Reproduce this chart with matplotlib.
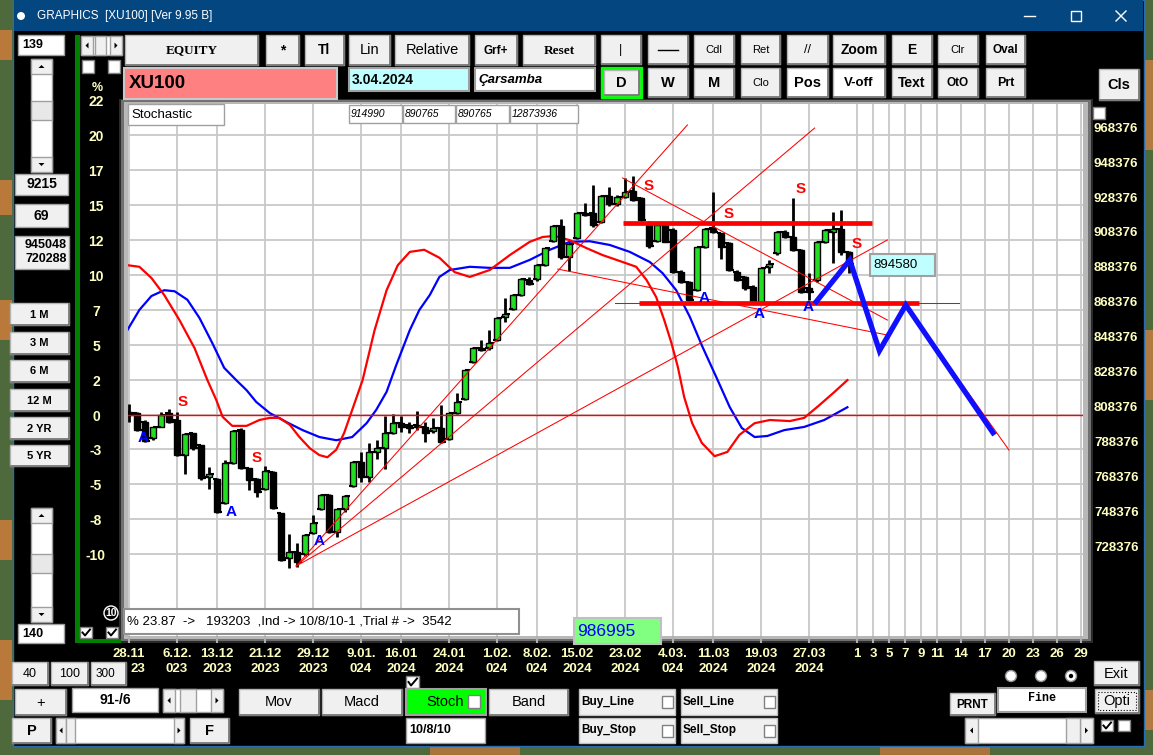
import matplotlib
matplotlib.use('Agg')
import matplotlib.pyplot as plt
from matplotlib.patches import Rectangle, Circle, Polygon
from matplotlib import font_manager
import matplotlib.transforms as mtransforms

# ---------------- data ----------------
opens = [810000, 809000, 804300, 794700, 801400, 809000, 805200, 785200, 797600, 790900,
         772800, 771400, 757500, 780400, 799500, 777500, 771400, 765500, 775600, 751700,
         726300, 729400, 728200, 740700, 754000, 762300, 741200, 754000, 767400, 781400,
         772800, 787100, 789000, 797600, 803300, 802400, 802400, 801400, 799100, 800500,
         794100, 809000, 817100, 838600, 846300, 846300, 851100, 864400, 868600, 876900,
         885400, 885800, 894000, 907800, 916400, 898400, 909700, 923600, 923600, 918900,
         933800, 928800, 933200, 936400, 932200, 917900, 907800, 917000, 914100, 890200,
         884500, 879700, 904200, 915100, 912200, 906500, 890200, 887400, 881600, 872100,
         892700, 900700, 913100, 910300, 902600, 880700, 885400, 907400, 913100, 914500,
         901700]
highs = [814400, 810000, 805000, 801400, 810000, 811300, 810000, 797500, 798000, 791000,
         778100, 772000, 782300, 799500, 800800, 778000, 772000, 778900, 776000, 752000,
         739700, 734900, 740000, 750800, 762800, 763000, 754500, 762500, 782000, 787100,
         791900, 793800, 807500, 808500, 807500, 804300, 810600, 804300, 806200, 813800,
         809500, 820500, 834000, 847000, 851000, 856800, 864000, 874900, 877500, 886500,
         887000, 894500, 904000, 917000, 920200, 906500, 924000, 929400, 939900, 934000,
         938500, 934000, 943700, 945048, 933000, 919000, 917500, 917500, 915000, 891000,
         885000, 904500, 915000, 936100, 912500, 907000, 891000, 888000, 882500, 892500,
         896900, 913500, 914000, 932200, 903000, 889300, 908000, 914500, 924600, 925600,
         902000]
lows = [804300, 799100, 792800, 794000, 801000, 803300, 784500, 774100, 788000, 771000,
        765500, 751800, 757000, 780000, 777000, 765100, 760900, 765000, 754000, 724500,
        720288, 721200, 727500, 740000, 753500, 740500, 738000, 752300, 767000, 769900,
        769900, 782700, 777000, 797000, 798500, 797600, 799500, 792800, 797600, 791900,
        793500, 808500, 816500, 838000, 844500, 845500, 850500, 861600, 868000, 876000,
        882500, 885000, 893500, 907000, 897500, 890600, 909000, 922000, 916000, 918000,
        928000, 928000, 932500, 930500, 919000, 904000, 907000, 907000, 889500, 884000,
        873500, 879000, 903500, 912500, 897300, 890500, 884800, 880000, 871500, 871500,
        889300, 900000, 909500, 902000, 878000, 874000, 884500, 906800, 895000, 900000,
        889300]
closes = [808100, 799500, 793400, 801400, 808100, 804300, 785200, 797000, 789000, 771800,
          774100, 752300, 780400, 798900, 777500, 770800, 764200, 776000, 754600, 725000,
          729400, 724100, 739300, 746400, 762300, 741200, 754000, 761900, 781400, 772800,
          786700, 789000, 797600, 803300, 801400, 800500, 801400, 798000, 800500, 792800,
          809000, 815700, 833900, 846700, 845300, 849200, 863500, 866000, 876900, 885800,
          883200, 894000, 903600, 916400, 898400, 906100, 923600, 922700, 917000, 933800,
          928800, 933200, 936100, 931300, 919800, 904900, 917000, 907400, 890200, 884500,
          874000, 904200, 914700, 913100, 904200, 891200, 885400, 880700, 872100, 892100,
          894400, 913100, 910300, 902600, 878800, 878800, 907400, 914100, 914500, 901700,
          894580]

date_ticks = [0, 6, 11, 17, 23, 29, 34, 40, 46, 51, 56, 62, 68, 73, 79, 85]
date_labels = ['28.11\n23', '6.12.\n023', '13.12\n2023', '21.12\n2023', '29.12\n2023',
               '9.01.\n024', '16.01\n2024', '24.01\n2024', '1.02.\n024', '8.02.\n024',
               '15.02\n2024', '23.02\n2024', '4.03.\n024', '11.03\n2024', '19.03\n2024',
               '27.03\n2024']
future_ticks = [91, 93, 95, 97, 99, 101, 104, 107, 110, 113, 116, 119]
future_labels = ['1', '3', '5', '7', '9', '11', '14', '17', '20', '23', '26', '29']

price_grid = [968376, 948376, 928376, 908376, 888376, 868376, 848376, 828376,
              808376, 788376, 768376, 748376, 728376]
pct_levels = [988376] + price_grid
pct_labels = ['22', '20', '17', '15', '12', '10', '7', '5', '2', '0', '-3', '-5', '-8', '-10']

k_idx = [-0.2, 1.3, 2.8, 4.4, 6.3, 8.2, 9.8, 10.9, 11.7, 12.9, 14.7, 16.3, 17.6, 18.8, 20.1,
         21.3, 22.6, 23.8, 24.8, 25.9, 26.9, 27.9, 29.2, 30.7, 32.2, 33.6, 35.1, 36.9, 38.8,
         40.7, 42.6, 45.1, 47.6, 50.1, 51.7, 53.2, 55.1, 57.2, 59.2, 61.7, 63.4, 64.7, 65.9,
         66.9, 67.8, 68.6, 69.4, 70.4, 71.6, 73.2, 74.8, 76.3, 78.2, 80.1, 82.6, 84.4, 86.3,
         88.2, 89.8]
k_val = [69.7, 69.4, 67.3, 64.1, 59.4, 54.1, 48.1, 44.4, 41.2, 39.5, 39.5, 40.6, 41.0, 41.0,
         39.7, 37.4, 35.3, 34.0, 33.6, 35.0, 38.2, 42.5, 48.1, 57.5, 65.0, 69.7, 72.2, 72.6,
         71.1, 68.4, 67.5, 68.8, 71.6, 74.1, 75.0, 75.2, 74.4, 72.9, 71.6, 70.3, 69.4, 66.9,
         63.7, 59.4, 55.1, 50.6, 44.9, 40.0, 36.3, 33.8, 34.6, 37.8, 40.0, 40.6, 40.4, 41.0,
         43.4, 45.9, 48.1]
d_idx = [-0.2, 1.3, 2.8, 4.4, 5.7, 7.3, 8.8, 10.4, 11.9, 13.4, 14.7, 15.9, 17.6, 19.7, 21.7,
         23.8, 25.9, 27.9, 29.7, 30.9, 32.2, 33.4, 35.1, 36.3, 37.6, 38.8, 40.1, 42.6, 45.1,
         47.6, 50.1, 52.6, 55.1, 57.6, 60.1, 62.6, 65.1, 66.7, 68.4, 70.1, 71.7, 73.4, 75.1,
         76.6, 78.2, 79.8, 81.9, 84.4, 86.9, 89.8]
d_val = [57.5, 61.3, 63.9, 65.0, 64.8, 63.2, 59.8, 55.1, 50.4, 48.1, 46.2, 44.0, 41.9, 40.2,
         38.7, 37.4, 36.8, 37.4, 40.0, 42.5, 45.9, 50.9, 57.5, 61.3, 64.1, 67.5, 68.8, 69.4,
         69.2, 69.2, 70.7, 72.6, 74.1, 74.2, 73.5, 72.2, 70.3, 68.2, 65.0, 60.0, 54.3, 48.7,
         43.0, 39.1, 37.4, 37.6, 38.7, 39.3, 40.6, 43.0]

# thin trend lines (index, price) -> (index, price)
tl_x0 = [20.9, 20.9, 20.9, 61.7, 53.6, 60.7, 97.1]
tl_p0 = [721600, 721600, 721600, 943900, 891700, 872300, 871100]
tl_x1 = [69.8, 85.7, 94.8, 94.8, 94.8, 103.8, 110.0]
tl_p1 = [974300, 972500, 908400, 862500, 853900, 872300, 788000]
base_level = 808376
# thick horizontal levels
thick_x0 = [61.7, 63.8]
thick_x1 = [92.9, 98.8]
thick_p = [918100, 872300]
# blue projection
proj_idx = [85.9, 90.1, 93.8, 97.1, 108.0]
proj_price = [873000, 896900, 844900, 871100, 797900]

ann_idx = [1.75, 6.75, 15.9, 12.75, 23.75, 64.9, 74.9, 71.9, 83.9, 78.75, 84.9, 91.0]
ann_price = [794900, 815500, 783500, 752500, 735900, 939300, 923300, 875100, 937600, 866000, 870000, 906100]
ann_text = ['A', 'S', 'S', 'A', 'A', 'S', 'S', 'A', 'S', 'A', 'A', 'S']

# ---------------- fonts ----------------
names = {f.name for f in font_manager.fontManager.ttflist}
SANS = 'Liberation Sans' if 'Liberation Sans' in names else 'DejaVu Sans'
NARROW = 'Liberation Sans Narrow' if 'Liberation Sans Narrow' in names else SANS
SERIF = 'Liberation Serif' if 'Liberation Serif' in names else 'DejaVu Serif'
MONO = 'Liberation Mono' if 'Liberation Mono' in names else 'DejaVu Sans Mono'
YEL = '#ffffc0'

W, H = 1153, 755
fig = plt.figure(figsize=(W / 100, H / 100), dpi=100)
bg = fig.add_axes([0, 0, 1, 1], zorder=0)
bg.set_xlim(0, W); bg.set_ylim(H, 0); bg.axis('off')


def box(x0, y0, x1, y1, fc, ec='#a0a0a0', lw=1.0, z=2, a=None, ls='-'):
    a = a or bg
    a.add_patch(Rectangle((x0, y0), x1 - x0, y1 - y0, facecolor=fc, edgecolor=ec,
                          linewidth=lw, zorder=z, linestyle=ls))


def txt(x, y, s, fs=9, w='bold', fam=None, c='black', ha='center', st='normal', z=4, a=None, **kw):
    a = a or bg
    a.text(x, y, s, fontsize=fs, fontweight=w, family=fam or SANS, color=c, ha=ha, va='center',
           style=st, zorder=z, **kw)


def button(x0, y0, x1, y1, label, fs=9.5, w='bold', fam=None, fc='#f0f0f0', c='black', st='normal', tx=None):
    box(x0, y0, x1, y1, fc, ec='#b4b4b4', lw=1)
    bg.plot([x0 + 1, x1, x1], [y1, y1, y0 + 1], color='#707070', lw=1.2, zorder=3)
    txt(tx if tx is not None else (x0 + x1) / 2, (y0 + y1) / 2 + 0.5, label, fs=fs, w=w, fam=fam, c=c, st=st)


def check(x0, y0, x1, y1, on=False):
    box(x0, y0, x1, y1, 'white', ec='#808080', lw=1)
    if on:
        bg.plot([x0 + 2.5, x0 + 5, x1 - 2], [(y0 + y1) / 2, y1 - 2.5, y0 + 2.5], color='black', lw=1.4, zorder=4)


def tri(cx, cy, d, s=3):
    if d == 'up':
        pts = [[cx - s, cy + s / 2], [cx + s, cy + s / 2], [cx, cy - s / 2]]
    elif d == 'down':
        pts = [[cx - s, cy - s / 2], [cx + s, cy - s / 2], [cx, cy + s / 2]]
    elif d == 'left':
        pts = [[cx + s / 2, cy - s], [cx + s / 2, cy + s], [cx - s / 2, cy]]
    else:
        pts = [[cx - s / 2, cy - s], [cx - s / 2, cy + s], [cx + s / 2, cy]]
    bg.add_patch(Polygon(pts, closed=True, facecolor='black', edgecolor='none', zorder=5))


def vscroll(x0, y0, x1, y1, t0, t1):
    box(x0, y0, x1, y1, 'white', '#a0a0a0')
    box(x0, y0, x1, y0 + 15, '#f0f0f0', '#a0a0a0', z=3)
    box(x0, y1 - 15, x1, y1, '#f0f0f0', '#a0a0a0', z=3)
    box(x0, t0, x1, t1, '#e8e8e8', '#a0a0a0', z=3)
    tri((x0 + x1) / 2, y0 + 7.5, 'up'); tri((x0 + x1) / 2, y1 - 7.5, 'down')


def hscroll(x0, y0, x1, y1, t0, t1, aw=13):
    box(x0, y0, x1, y1, 'white', '#a0a0a0')
    box(x0, y0, x0 + aw, y1, '#f0f0f0', '#a0a0a0', z=3)
    box(x1 - aw, y0, x1, y1, '#f0f0f0', '#a0a0a0', z=3)
    box(t0, y0, t1, y1, '#f0f0f0', '#a0a0a0', z=3)
    tri(x0 + aw / 2, (y0 + y1) / 2, 'left'); tri(x1 - aw / 2, (y0 + y1) / 2, 'right')


# ---------------- desktop + window ----------------
box(0, 0, W, H, '#4e6a3c', ec='none', z=0)
for (yy0, yy1) in [(30, 60), (180, 215), (300, 340), (520, 560), (640, 700)]:
    box(0, yy0, 12, yy1, '#b8793a', ec='none', z=0.5)
for (yy0, yy1) in [(60, 150), (330, 400), (690, 730)]:
    box(1144, yy0, W, yy1, '#b07a40', ec='none', z=0.5)
box(430, 745, 520, H, '#a8743a', ec='none', z=0.5)
box(880, 745, 990, H, '#a8743a', ec='none', z=0.5)
box(13, 0, 1144, 746, '#000000', ec='#2a6cb0', lw=1, z=1)
box(14, 0, 1143, 31, '#04467f', ec='none', z=1.5)
bg.add_patch(Circle((21, 16), 4, facecolor='white', edgecolor='none', zorder=3))
txt(37, 16, 'GRAPHICS  [XU100] [Ver 9.95 B]', fs=8.5, w='normal', c='white', ha='left')
bg.plot([1024, 1035], [16, 16], color='white', lw=1, zorder=3)
box(1071, 11, 1081, 21, 'none', ec='white', lw=1, z=3)
bg.plot([1116, 1126], [11, 21], color='white', lw=1, zorder=3)
bg.plot([1116, 1126], [21, 11], color='white', lw=1, zorder=3)

# ---------------- left panel ----------------
box(18, 35, 64, 55, 'white', '#a0a0a0')
txt(22, 45, '139', fs=9, ha='left')
vscroll(31, 59, 52, 172, 101, 120)
box(15, 174, 68, 195, '#f0f0f0', '#a0a0a0'); txt(41.5, 184.5, '9215', fs=10)
box(15, 204, 68, 227, '#f0f0f0', '#a0a0a0'); txt(41.5, 215.5, '69', fs=10)
box(15, 236, 69, 269, '#f0f0f0', '#a0a0a0')
txt(67, 245.5, '945048', fs=9, ha='right'); txt(67, 259.5, '720288', fs=9, ha='right')
for (yy0, yy1, lab) in [(303, 325, '1 M'), (332, 354, '3 M'), (360, 382, '6 M'), (389, 411, '12 M'),
                        (417, 439, '2 YR'), (445, 466, '5 YR')]:
    button(10, yy0, 69, yy1, lab, fs=8)
vscroll(31, 508, 52, 622, 554, 573)
box(18, 624, 64, 643, 'white', '#a0a0a0'); txt(22, 634, '140', fs=9, ha='left')
box(75, 35, 79.5, 643, '#008000', ec='none', z=2)
box(75, 638.5, 121, 643, '#008000', ec='none', z=2)
check(80, 627, 92, 638, True); check(106, 627, 118, 638, True)
bg.add_patch(Circle((111, 613), 7, facecolor='none', edgecolor='white', lw=1, zorder=3))
txt(111, 613, '10', fs=7.5, c='white')
hscroll(81, 36, 122, 55, 95, 106, aw=12)
check(82, 60, 94, 73); check(108, 60, 120, 73)
txt(97, 88, '%', fs=9, fam=NARROW, c=YEL)

# ---------------- top toolbar ----------------
button(125, 35, 258, 65, 'EQUITY', fs=9.5, fam=SERIF)
button(266, 35, 299, 65, '*', fs=10)
button(305, 35, 344, 65, 'Tl', fs=10)
button(349, 35, 390, 65, 'Lin', fs=10.5, w='normal')
button(395, 35, 469, 65, 'Relative', fs=10.5, w='normal')
button(475, 35, 517, 65, 'Grf+', fs=8.5)
button(523, 35, 595, 65, 'Reset', fs=9.5, fam=SERIF)
top1 = [(601, 641, '|', 9, 'normal'), (648, 688, '', 9, 'normal'), (694, 734, 'Cdl', 8, 'normal'),
        (741, 780, 'Ret', 8, 'normal'), (787, 828, '//', 9, 'normal'), (833, 885, 'Zoom', 10, 'bold'),
        (892, 932, 'E', 10, 'bold'), (938, 978, 'Clr', 8, 'normal'), (986, 1025, 'Oval', 8.5, 'bold')]
for (x0, x1, lab, fs, w) in top1:
    button(x0, 35, x1, 64, lab, fs=fs, w=w)
bg.plot([658, 678], [49.5, 49.5], color='black', lw=1, zorder=5)
box(124, 68, 337, 99, '#ff8080', ec='#c8c8c8', lw=1.5)
txt(129, 84, 'XU100', fs=13.5, ha='left')
box(349, 68, 469, 91, '#c0ffff', ec='#a0a0a0', lw=1.5)
txt(352, 80, '3.04.2024', fs=10, ha='left')
box(475, 68, 595, 91, 'white', ec='#a0a0a0', lw=1.5)
txt(478, 80, 'Çarsamba', fs=9.5, ha='left', st='italic')
box(601, 67, 642, 98, '#00ff00', ec='#00ff00', lw=1)
button(604, 70, 639, 95, 'D', fs=10.5)
top2 = [(648, 688, 'W', 10.5, 'bold', '#f0f0f0'), (694, 734, 'M', 10.5, 'bold', '#f0f0f0'),
        (741, 780, 'Clo', 8, 'normal', '#f0f0f0'), (787, 828, 'Pos', 10.5, 'bold', 'white'),
        (833, 885, 'V-off', 9.5, 'bold', 'white'), (892, 932, 'Text', 10, 'bold', '#f0f0f0'),
        (938, 978, 'OtO', 8.5, 'bold', '#f0f0f0'), (986, 1025, 'Prt', 9, 'bold', '#f0f0f0')]
for (x0, x1, lab, fs, w, fc) in top2:
    button(x0, 68, x1, 97, lab, fs=fs, w=w, fc=fc)
button(1099, 69, 1139, 100, 'Cls', fs=10.5)
check(1093, 107, 1105, 119)

# ---------------- chart frame ----------------
box(119, 99, 1093, 643, '#2a2a2a', ec='none', z=1.6)
box(121, 100, 1091, 641, '#707070', ec='none', z=1.7)
box(124, 102, 1088, 639, '#b8b8b8', ec='none', z=1.8)

# ---------------- bottom controls ----------------
button(12, 662, 48, 685, '40', fs=9, w='normal')
button(51, 662, 88, 685, '100', fs=9, w='normal')
button(91, 662, 126, 685, '300', fs=8.5, w='normal', tx=105)
button(15, 689, 66, 715, '+', fs=10.5, w='normal')
box(72, 688, 158, 712, 'white', '#a0a0a0'); txt(115, 700, '91-/6', fs=10)
hscroll(163, 689, 223, 712, 180, 196, aw=12)
button(12, 718, 51, 743, 'P', fs=10.5)
hscroll(56, 718, 184, 743, 66, 75, aw=10)
button(190, 718, 229, 743, 'F', fs=10.5)
button(239, 689, 319, 715, 'Mov', fs=10.5, w='normal')
button(322, 689, 402, 715, 'Macd', fs=10.5, w='normal')
check(406, 676, 419, 688, True)
box(406, 689, 486, 715, '#00ff00', ec='#a0a0a0', lw=1.5)
txt(445, 702, 'Stoch', fs=10.5, w='normal')
box(468, 695, 480, 708, 'white', ec='#808080', lw=1, z=4)
box(406, 718, 485, 743, 'white', '#a0a0a0'); txt(409, 730, '10/8/10', fs=9, ha='left')
button(489, 689, 568, 715, 'Band', fs=10.5, w='normal')
for (x0, x1, y0, y1, lab) in [(579, 675, 689, 715, 'Buy_Line'), (681, 777, 689, 715, 'Sell_Line'),
                              (579, 675, 718, 743, 'Buy_Stop'), (681, 777, 718, 743, 'Sell_Stop')]:
    box(x0, y0, x1, y1, '#f0f0f0', '#c0c0c0')
    txt(x0 + 2, (y0 + y1) / 2, lab, fs=8.5, ha='left')
    check(x1 - 13, (y0 + y1) / 2 - 6, x1 - 2, (y0 + y1) / 2 + 6)
for xc, sel in [(1011, False), (1041, False), (1071, True)]:
    bg.add_patch(Circle((xc, 676), 5.5, facecolor='white', edgecolor='#909090', lw=1, zorder=3))
    if sel:
        bg.add_patch(Circle((xc, 676), 2.2, facecolor='black', edgecolor='none', zorder=4))
button(950, 693, 995, 715, 'PRNT', fs=8.5)
box(998, 688, 1086, 712, 'white', '#a0a0a0', lw=1.5); txt(1042, 698, 'Fine', fs=8.5, fam=MONO)
button(1094, 661, 1139, 685, 'Exit', fs=10.5, w='normal')
button(1095, 689, 1139, 713, 'Opti', fs=10.5, w='normal')
box(1098, 692, 1136, 710, 'none', ec='black', lw=0.8, z=4, ls=':')
hscroll(965, 718, 1093, 743, 1066, 1080, aw=13)
check(1101, 720, 1113, 731, True); check(1118, 720, 1130, 731)

# ---------------- main chart axes ----------------
L, R, T, B = 128, 1083, 104, 636
ax = fig.add_axes([L / W, 1 - B / H, (R - L) / W, (B - T) / H], zorder=1)
ax.set_facecolor('white')
ax.set_xlim(-0.125, 119.25)
ax.set_ylim(1045885 - 573 * B, 1045885 - 573 * T)
for s in ax.spines.values():
    s.set_visible(False)
ax.set_yticks(price_grid)
ax.tick_params(axis='y', left=False, right=False, labelleft=False, labelright=False)
ax.set_xticks(date_ticks + future_ticks, labels=date_labels + future_labels)
ax.tick_params(axis='x', length=5, width=1.5, color='#b0b0b0', labelcolor=YEL, pad=3.5, labelsize=9.5)
for n, lab in enumerate(ax.get_xticklabels()):
    lab.set_fontfamily(NARROW); lab.set_fontweight('bold'); lab.set_linespacing(1.4)
    if n == 0:
        lab.set_multialignment('right')
ax.grid(True, color='#c8c8c8', lw=1.3, zorder=0)
ax.set_axisbelow(True)

# stochastic lines (0-100 mapped to plot height)
st_tr = mtransforms.blended_transform_factory(ax.transData, ax.transAxes)
ax.plot(d_idx, [v / 100 for v in d_val], color='#0000ff', lw=1.6, transform=st_tr, zorder=2)
ax.plot(k_idx, [v / 100 for v in k_val], color='#ff0000', lw=1.6, transform=st_tr, zorder=2.1)

# candles
for i in range(len(opens)):
    o, h, l, c = opens[i], highs[i], lows[i], closes[i]
    ax.vlines(i, l, h, color='black', lw=2.0, zorder=3)
    lo, hi = min(o, c), max(o, c)
    if hi - lo < 1200:
        hi = lo + 1200
    up = c >= o
    ax.add_patch(Rectangle((i - 0.4, lo), 0.8, hi - lo, facecolor='#22dd22' if up else 'black',
                           edgecolor='black', lw=1.0, zorder=3.2))
    ax.hlines(o, i - 0.55, i, color='black', lw=1.5, zorder=3.3)
    ax.hlines(c, i, i + 0.62, color='black', lw=1.5, zorder=3.3)

# trend lines
ax.axhline(base_level, color='#ff0000', lw=1.0, zorder=4)
for x0, p0, x1, p1 in zip(tl_x0, tl_p0, tl_x1, tl_p1):
    ax.plot([x0, x1], [p0, p1], color='#ff0000', lw=0.75, zorder=4)
for x0, x1, p in zip(thick_x0, thick_x1, thick_p):
    ax.plot([x0, x1], [p, p], color='#ff0000', lw=3.4, zorder=4.2, solid_capstyle='butt')
ax.plot(proj_idx, proj_price, color='#1010ff', lw=3.8, zorder=5, solid_joinstyle='miter')

for xi, p, t in zip(ann_idx, ann_price, ann_text):
    ax.text(xi, p, t, color='#0000ff' if t == 'A' else '#ff0000', fontsize=11, fontweight='bold',
            family=SANS, ha='center', va='center', zorder=6)

# right price labels and left percent labels
rt = mtransforms.blended_transform_factory(ax.transAxes, ax.transData) + \
    mtransforms.ScaledTranslation(0, 0.065, fig.dpi_scale_trans)
for p in price_grid:
    ax.text(1 + 11 / (R - L), p, str(p), transform=rt, color=YEL, fontsize=9.5, fontweight='bold',
            family=NARROW, ha='left', va='center', clip_on=False)
lt = mtransforms.blended_transform_factory(ax.transAxes, ax.transData) + \
    mtransforms.ScaledTranslation(0, -0.02, fig.dpi_scale_trans)
for p, lab in zip(pct_levels, pct_labels):
    ax.text(-32 / (R - L), p, lab, transform=lt, color=YEL, fontsize=10, fontweight='bold',
            family=NARROW, ha='center', va='center', clip_on=False)

# ---------------- overlay boxes ----------------
fg = fig.add_axes([0, 0, 1, 1], zorder=5)
fg.set_xlim(0, W); fg.set_ylim(H, 0); fg.axis('off'); fg.patch.set_alpha(0)
box(128, 104, 224, 125, 'white', ec='#a0a0a0', a=fg)
txt(131, 114.5, 'Stochastic', fs=9.5, w='normal', ha='left', a=fg)
for (x0, x1, s) in [(349, 402, '914990'), (403, 455, '890765'), (456, 509, '890765'), (510, 578, '12873936')]:
    box(x0, 105, x1, 123, 'white', ec='#a0a0a0', a=fg)
    txt(x0 + 2, 114, s, fs=7.5, w='normal', ha='left', st='italic', a=fg)
box(124, 609, 519, 634, 'white', ec='#909090', lw=1.5, a=fg)
txt(127, 621, '% 23.87  ->   193203  ,Ind -> 10/8/10-1 ,Trial # ->  3542', fs=9.5, w='normal', ha='left', a=fg)
box(574, 618, 661, 644, '#80ff80', ec='#c0c0c0', lw=1.5, a=fg)
txt(577, 631, '986995', fs=12.5, w='normal', c='#0000ff', ha='left', a=fg)
box(870, 254, 935, 276, '#c0ffff', ec='#a0a0a0', lw=1.5, a=fg)
txt(873, 265, '894580', fs=9.5, w='normal', ha='left', a=fg)

fig.savefig('out.png', dpi=100)
